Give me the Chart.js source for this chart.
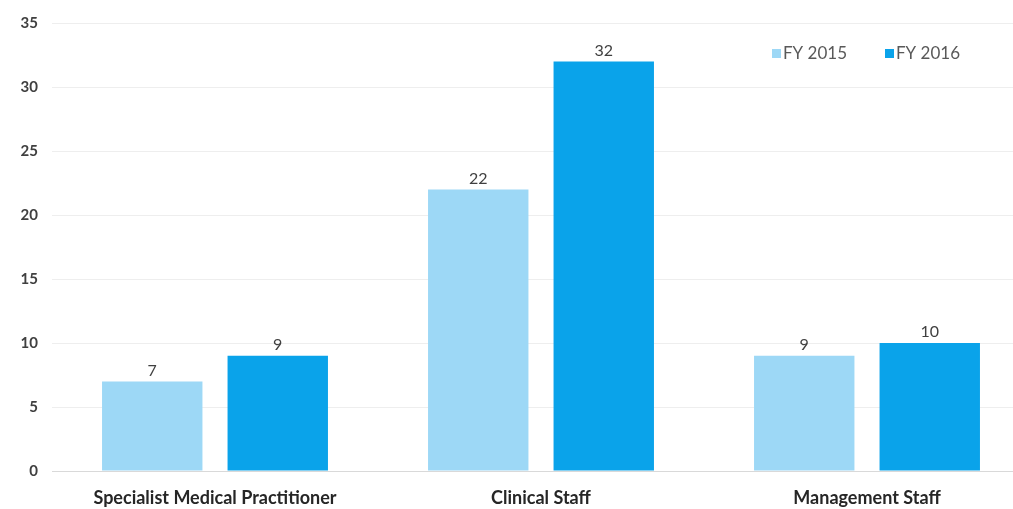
<!DOCTYPE html>
<html>
<head>
<meta charset="utf-8">
<script src="https://cdn.jsdelivr.net/npm/chart.js@4"></script>
<style>
  html, body { margin: 0; padding: 0; background: #fff; overflow: hidden; }
  #wrap { width: 1030px; height: 509px; }
</style>
</head>
<body>
<div id="wrap"><canvas id="myChart"></canvas></div>
<script>
// categories along the bottom
var categories = ['Specialist Medical Practitioner', 'Clinical Staff', 'Management Staff'];
// one array per year
var fy2015 = [7, 22, 9];
var fy2016 = [9, 32, 10];
var seriesNames = ['FY 2015', 'FY 2016'];
var seriesColors = ['#9dd8f6', '#0aa3ea'];

var textFont = "Lato, 'Open Sans', sans-serif";

// numbers above each bar
var valueLabels = {
  id: 'valueLabels',
  afterDatasetsDraw: function(chart) {
    var c = chart.ctx;
    c.save();
    c.font = '16px ' + textFont;
    c.fillStyle = '#404040';
    c.textAlign = 'center';
    c.textBaseline = 'bottom';
    chart.data.datasets.forEach(function(ds, i) {
      chart.getDatasetMeta(i).data.forEach(function(bar, j) {
        c.fillText(ds.data[j], bar.x, bar.y - 3);
      });
    });
    c.restore();
  }
};

// little legend sitting inside the plot, top right
var insideLegend = {
  id: 'insideLegend',
  afterDraw: function(chart) {
    var c = chart.ctx;
    var x = 772, y = 54;
    c.save();
    c.font = '17px ' + textFont;
    c.textBaseline = 'middle';
    chart.data.datasets.forEach(function(ds) {
      c.fillStyle = ds.backgroundColor;
      c.fillRect(x, y - 5, 9, 9);
      c.fillStyle = '#595959';
      c.fillText(ds.label, x + 11, y);
      x += 113;
    });
    c.restore();
  }
};

var ctx = document.getElementById('myChart');
var myChart = new Chart(ctx, {
  type: 'bar',
  data: {
    labels: categories,
    datasets: [
      { label: seriesNames[0], data: fy2015, backgroundColor: seriesColors[0] },
      { label: seriesNames[1], data: fy2016, backgroundColor: seriesColors[1] }
    ]
  },
  options: {
    responsive: true,
    maintainAspectRatio: false,
    animation: false,
    layout: { padding: { top: 23, right: 0, bottom: 0, left: 0 } },
    categoryPercentage: 0.77,
    barPercentage: 0.8,
    plugins: {
      legend: { display: false },
      tooltip: { enabled: false }
    },
    scales: {
      x: {
        grid: { display: false },
        border: { display: false },
        ticks: {
          color: '#262626',
          font: { family: textFont, size: 18, weight: 'bold' },
          maxRotation: 0,
          padding: 8
        },
        afterFit: function(scale) { scale.height = 38; }
      },
      y: {
        min: 0,
        max: 35,
        ticks: {
          stepSize: 5,
          color: '#404040',
          font: { family: textFont, size: 15, weight: 'bold' },
          padding: 14
        },
        border: { display: false },
        grid: {
          color: function(c) { return c.tick.value === 0 ? '#d9d9d9' : '#eeeeee'; },
          drawTicks: false
        },
        afterFit: function(scale) { scale.width = 52; }
      }
    }
  },
  plugins: [valueLabels, insideLegend]
});
</script>
</body>
</html>
